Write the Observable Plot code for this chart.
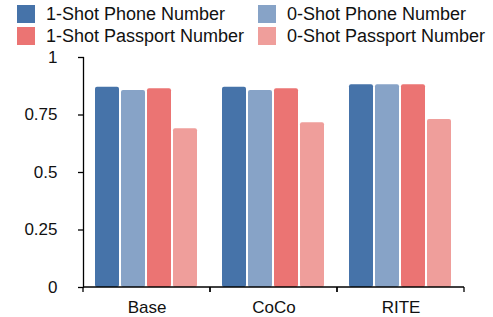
<!DOCTYPE html>
<html><head><meta charset="utf-8">
<script src="https://cdn.jsdelivr.net/npm/d3@7"></script>
<script src="https://cdn.jsdelivr.net/npm/@observablehq/plot@0.6"></script>
<style>
body{margin:0;background:#fff;font-family:"Liberation Sans",Arial,sans-serif}
#legend{position:relative;height:45px;width:493px}
.item{position:absolute;display:flex;align-items:center;font-size:18px;color:#111;line-height:18px;white-space:nowrap}
.sw{width:18px;height:18px;margin-right:11px}
svg{display:block}
</style></head>
<body><div id="legend"></div><div id="chart"></div>
<script>
const groups = ["Base", "CoCo", "RITE"];
const series = ["1-Shot Phone Number", "0-Shot Phone Number", "1-Shot Passport Number", "0-Shot Passport Number"];
const colors = ["#4673a9", "#87a3c7", "#eb7473", "#ef9e9b"];
const phone1 = [0.871, 0.871, 0.881];
const phone0 = [0.857, 0.857, 0.881];
const pass1 = [0.864, 0.864, 0.881];
const pass0 = [0.690, 0.716, 0.730];
const yTicks = [0, 0.25, 0.5, 0.75, 1];

const valuesBySeries = [phone1, phone0, pass1, pass0];
const data = groups.flatMap((g, i) => series.map((s, j) => ({group: g, series: s, value: valuesBySeries[j][i]})));

// legend
const legendPos = [[17, 5], [258, 5], [17, 26.5], [258, 26.5]];
const legend = d3.select("#legend");
series.forEach((s, j) => {
  const it = legend.append("div").attr("class", "item")
    .style("left", legendPos[j][0] + "px").style("top", legendPos[j][1] + "px");
  it.append("div").attr("class", "sw").style("background", colors[j]);
  it.append("span").text(s);
});

// per-facet bottom axis segment with ticks at the group boundaries
function bottomAxis(index, scales) {
  const [xa, xb] = scales.x.range();
  const y0 = scales.y(0);
  const g = d3.create("svg:g").attr("stroke", "#000").attr("stroke-width", 1.3);
  g.append("line").attr("x1", xa).attr("x2", xb).attr("y1", y0).attr("y2", y0);
  g.selectAll(".t").data([xa, xb]).join("line").attr("x1", d => d).attr("x2", d => d).attr("y1", y0).attr("y2", y0 + 5);
  return g.node();
}

const chart = Plot.plot({
  width: 493, height: 272,
  marginTop: 12, marginBottom: 30, marginLeft: 82, marginRight: 29,
  style: {fontFamily: "Liberation Sans, Arial, sans-serif", fontSize: "17px", color: "#111", background: "#fff"},
  fx: {domain: groups, padding: 0, label: null},
  x: {domain: series, paddingInner: 0.074, paddingOuter: 0.39, axis: null},
  y: {domain: [0, 1], label: null},
  color: {domain: series, range: colors},
  marks: [
    Plot.barY(data, {fx: "group", x: "series", y: "value", fill: "series", rx: 2}),
    Plot.frame({anchor: "left", facetAnchor: "left", stroke: "#000", strokeWidth: 1.3}),
    Plot.axisY({ticks: yTicks, tickFormat: d3.format("~g"), tickSize: 5, tickPadding: 21, label: null, stroke: "#000", strokeWidth: 1.3}),
    Plot.axisFx({tickSize: 0, tickPadding: 13, label: null, anchor: "bottom"}),
    bottomAxis
  ]
});
document.getElementById("chart").appendChild(chart);
</script>
</body></html>
